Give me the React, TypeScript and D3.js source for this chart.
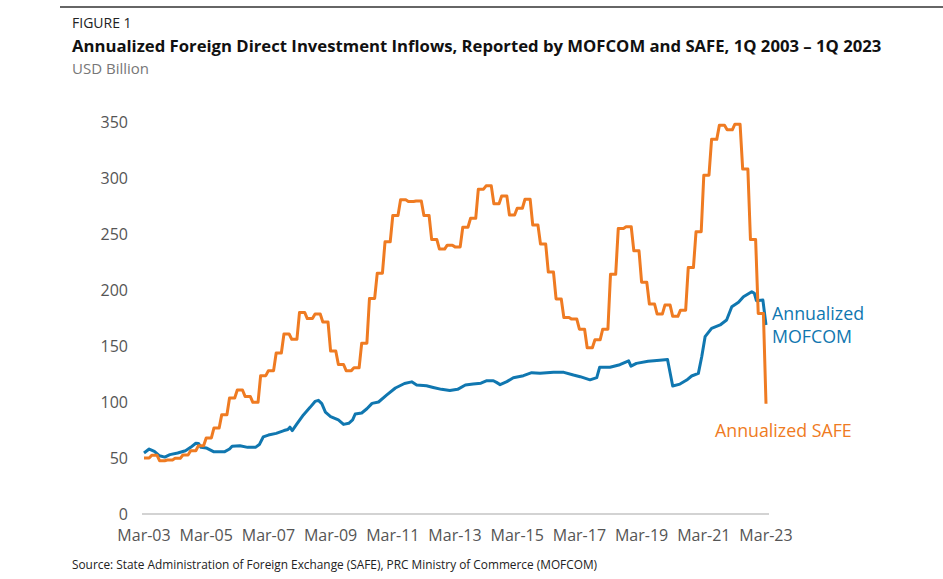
import React, { useEffect, useRef } from "react";
import * as d3 from "d3";

const xTickLabels = ["Mar-03", "Mar-05", "Mar-07", "Mar-09", "Mar-11", "Mar-13", "Mar-15", "Mar-17", "Mar-19", "Mar-21", "Mar-23"];
const yTicks = [0, 50, 100, 150, 200, 250, 300, 350];

// SAFE annualized, one value per quarter, 1Q2003 .. 1Q2023 (USD bn)
const safeQuarterly = [
  50, 52.5, 47.6, 48.2, 49.7, 52.7, 56.5, 61, 67.9, 76.8,
  88.7, 103.6, 110.7, 105, 99.7, 123.5, 128, 143.8, 160.7, 156,
  180, 174.5, 178.5, 171.5, 145.5, 133.5, 128, 130.5, 152.5, 192.5,
  215, 243, 266.5, 280.5, 279, 279.5, 266.5, 245, 236.5, 240,
  238.5, 256, 264, 290, 293, 277, 284, 267, 273, 281,
  258, 241, 216, 192, 175.5, 174, 165, 148.5, 155.5, 165,
  214, 255, 256.5, 235, 207, 187.5, 178.5, 186.5, 176.5, 182,
  220, 252, 302.5, 334.5, 347, 343, 348, 308, 245, 179,
  98.5,
];

// MOFCOM annualized, months since Mar-2003 and values (USD bn)
const mofcomMonth = [
  0, 2, 4, 6, 8, 10, 13, 16, 18, 20, 21, 22, 24, 27, 31, 33, 34, 37, 40, 43,
  44.5, 46, 48, 51, 54, 55.5, 56.3, 57.2, 59, 61.5, 64, 66, 67.3, 68.6, 70, 72, 75, 77, 79, 80.5,
  81.5, 84, 86, 88, 90.5, 93.7, 97, 100.5, 103.3, 105.2, 109, 111.6, 114.8, 118, 121, 124, 127, 130, 132.3, 134.8,
  136, 137.4, 140, 142.5, 146.4, 149.6, 152.8, 158, 162, 165.7, 168.3, 172.1, 174.7, 175.8, 179.8, 183.6, 187, 187.9, 190, 194.5,
  199, 202, 204, 206.8, 209.4, 211.3, 213.9, 215.2, 216.5, 219, 222.3, 224.8, 226.8, 229.4, 231.3, 234.5, 235.5, 236.3, 238.8, 240,
];
const mofcomValue = [
  54.5, 58, 56, 52, 50.8, 53, 54.5, 56.5, 59.5, 63.2, 63, 59.5, 59, 55.5, 55.5, 58, 60.5, 61, 59.5, 59.5,
  62, 68.8, 70.5, 72, 74.5, 75.5, 77.5, 74.5, 80.5, 88.5, 95, 100.5, 101.5, 98.5, 91, 87, 84, 80, 81, 84,
  89.3, 90.2, 94, 98.8, 100, 106.3, 112.5, 116.5, 118, 115.2, 114.5, 113, 111.3, 110.2, 111.3, 115.2, 116.1, 116.8, 119, 119,
  117.5, 115.5, 118.2, 121.7, 123.5, 126.2, 125.6, 126.5, 126.5, 124.1, 122.6, 119.8, 121.8, 131, 131, 133.3, 136.8, 132, 134.5, 136.3,
  137.3, 138, 114.3, 116, 119.6, 123.2, 125.6, 140.4, 158.3, 165.8, 168.8, 173.2, 185, 189, 194, 198.5, 197, 190.5, 191, 168.8,
];

const ORANGE = "#ef7b22";
const BLUE = "#1077b0";
const FONT = "'Open Sans', 'Noto Sans', sans-serif";

export default function App() {
  const ref = useRef<SVGSVGElement>(null);

  useEffect(() => {
    const svg = d3.select(ref.current);
    svg.selectAll("*").remove();

    const x = d3.scaleLinear().domain([0, 240]).range([144, 766]);
    const y = d3.scaleLinear().domain([0, 350]).range([514, 122]);

    // top rule
    svg.append("line").attr("x1", 60).attr("x2", 943).attr("y1", 7).attr("y2", 7)
      .attr("stroke", "#333").attr("stroke-width", 1.5);

    svg.append("text").attr("x", 72).attr("y", 28).text("FIGURE 1")
      .attr("font-family", FONT).attr("font-size", 14).attr("fill", "#222");
    svg.append("text").attr("x", 72).attr("y", 52)
      .text("Annualized Foreign Direct Investment Inflows, Reported by MOFCOM and SAFE, 1Q 2003 \u2013 1Q 2023")
      .attr("font-family", FONT).attr("font-size", 16.7).attr("font-weight", 700).attr("fill", "#111");
    svg.append("text").attr("x", 72).attr("y", 74).text("USD Billion")
      .attr("font-family", FONT).attr("font-size", 15).attr("fill", "#777");

    // y tick labels
    svg.append("g").selectAll("text").data(yTicks).join("text")
      .attr("x", 128).attr("y", (d) => y(d)).attr("dy", "0.35em")
      .attr("text-anchor", "end").text((d) => String(d))
      .attr("font-family", FONT).attr("font-size", 16).attr("fill", "#555");

    // baseline
    svg.append("line").attr("x1", x(0) - 2).attr("x2", x(240) + 3)
      .attr("y1", y(0)).attr("y2", y(0)).attr("stroke", "#d3d3d3").attr("stroke-width", 2);

    // x tick labels
    svg.append("g").selectAll("text").data(xTickLabels).join("text")
      .attr("x", (_d, i) => x(i * 24)).attr("y", 541)
      .attr("text-anchor", "middle").text((d) => d)
      .attr("font-family", FONT).attr("font-size", 16).attr("fill", "#555");

    // SAFE series: quarterly value held for the quarter's months
    const safePts: [number, number][] = [];
    safeQuarterly.forEach((v, q) => {
      safePts.push([3 * q, v]);
      if (q < safeQuarterly.length - 1) safePts.push([3 * q + 2, v]);
    });
    const line = d3.line<[number, number]>().x((d) => x(d[0])).y((d) => y(d[1]));

    const mofPts: [number, number][] = mofcomMonth.map((m, i) => [m, mofcomValue[i]]);

    svg.append("path").attr("d", line(mofPts)).attr("fill", "none")
      .attr("stroke", BLUE).attr("stroke-width", 3).attr("stroke-linejoin", "round");
    svg.append("path").attr("d", line(safePts)).attr("fill", "none")
      .attr("stroke", ORANGE).attr("stroke-width", 3).attr("stroke-linejoin", "round");

    // series labels
    svg.append("text").attr("x", 772).attr("y", 320).text("Annualized")
      .attr("font-family", FONT).attr("font-size", 17.8).attr("fill", BLUE);
    svg.append("text").attr("x", 772).attr("y", 343).text("MOFCOM")
      .attr("font-family", FONT).attr("font-size", 17.8).attr("fill", BLUE);
    svg.append("text").attr("x", 715).attr("y", 437).text("Annualized SAFE")
      .attr("font-family", FONT).attr("font-size", 17.8).attr("fill", ORANGE);

    svg.append("text").attr("x", 72).attr("y", 569)
      .text("Source: State Administration of Foreign Exchange (SAFE), PRC Ministry of Commerce (MOFCOM)")
      .attr("font-family", FONT).attr("font-size", 11.85).attr("fill", "#222");
  }, []);

  return (
    <svg ref={ref} width={943} height={579}
      style={{ position: "absolute", left: 0, top: 0, background: "#fff" }} />
  );
}
